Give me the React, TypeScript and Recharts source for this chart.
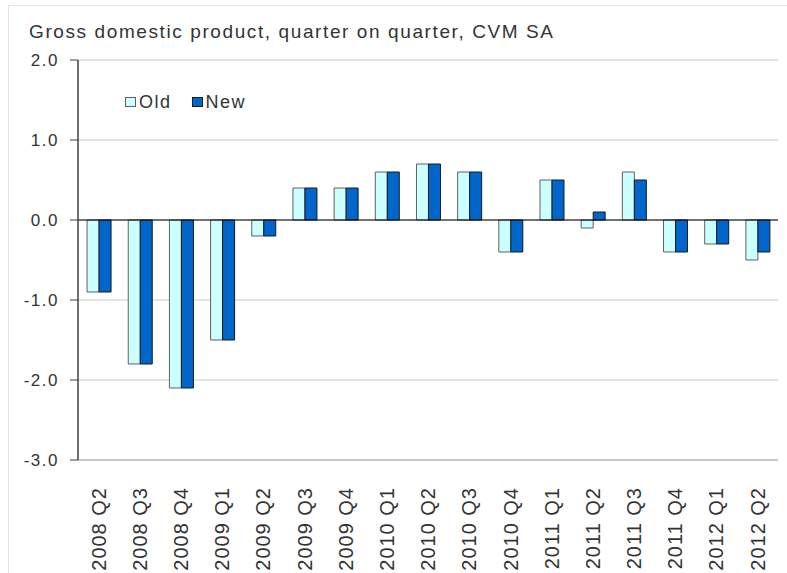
import React from 'react';
import { BarChart, Bar, XAxis, YAxis, CartesianGrid, ReferenceLine } from 'recharts';

const quarters = ['2008 Q2','2008 Q3','2008 Q4','2009 Q1','2009 Q2','2009 Q3','2009 Q4','2010 Q1','2010 Q2','2010 Q3','2010 Q4','2011 Q1','2011 Q2','2011 Q3','2011 Q4','2012 Q1','2012 Q2'];
const oldValues = [-0.9,-1.8,-2.1,-1.5,-0.2,0.4,0.4,0.6,0.7,0.6,-0.4,0.5,-0.1,0.6,-0.4,-0.3,-0.5];
const newValues = [-0.9,-1.8,-2.1,-1.5,-0.2,0.4,0.4,0.6,0.7,0.6,-0.4,0.5,0.1,0.5,-0.4,-0.3,-0.4];
const yTicks = [-3, -2, -1, 0, 1, 2];
const seriesNames = ['Old', 'New'];
const title = 'Gross domestic product, quarter on quarter, CVM SA';

const data = quarters.map((q, i) => ({ q, Old: oldValues[i], New: newValues[i] }));

const FONT = '"Liberation Sans", Arial, sans-serif';
const OLD_FILL = '#CCFFFF';
const OLD_STROKE = '#606060';
const NEW_FILL = '#0066CC';
const NEW_STROKE = '#1a1a1a';

const XTick = (props: any) => {
  const { x, y, payload } = props;
  const ty = y + 27;
  return (
    <text
      x={x}
      y={ty}
      transform={`rotate(-90 ${x} ${ty})`}
      textAnchor="end"
      dy="0.36em"
      fontSize={20}
      letterSpacing={1}
      fontFamily={FONT}
      fill="#333"
    >
      {payload.value}
    </text>
  );
};

const YTick = (props: any) => {
  const { y, payload } = props;
  return (
    <text x={59} y={y} dy="0.36em" textAnchor="end" fontSize={17} letterSpacing={1.5} fontFamily={FONT} fill="#333">
      {Number(payload.value).toFixed(1)}
    </text>
  );
};

const LegendBox = () => (
  <div style={{ position: 'absolute', left: 125, top: 93, display: 'flex', alignItems: 'center', fontFamily: FONT, fontSize: 18, letterSpacing: 1.5, color: '#333', lineHeight: '18px' }}>
    <span style={{ width: 9, height: 8, background: OLD_FILL, border: `1px solid ${OLD_STROKE}`, display: 'inline-block', marginRight: 3 }} />
    <span style={{ marginRight: 20 }}>{seriesNames[0]}</span>
    <span style={{ width: 9, height: 8, background: NEW_FILL, border: `1px solid ${NEW_STROKE}`, display: 'inline-block', marginRight: 3 }} />
    <span>{seriesNames[1]}</span>
  </div>
);

export default function App() {
  return (
    <div style={{ position: 'absolute', left: 0, top: 0, width: 787, height: 573, background: '#fff', overflow: 'hidden' }}>
      <div style={{ position: 'absolute', left: 8, top: 5, width: 800, height: 600, border: '1px solid #e4e4e4', boxSizing: 'border-box' }} />
      <div style={{ position: 'absolute', left: 29, top: 23, fontFamily: FONT, fontSize: 19, letterSpacing: 1.6, lineHeight: '18px', color: '#333', whiteSpace: 'nowrap' }}>
        {title}
      </div>
      <BarChart
        width={787}
        height={573}
        data={data}
        margin={{ top: 60, right: 9, left: 0, bottom: 0 }}
        barCategoryGap="22%"
        barGap={0}
        style={{ position: 'absolute', left: 0, top: 0 }}
      >
        <CartesianGrid vertical={false} stroke="#c8c8c8" />
        <XAxis
          dataKey="q"
          height={113}
          interval={0}
          tickLine={false}
          tickSize={0}
          tickMargin={0}
          axisLine={{ stroke: '#a8a8a8' }}
          tick={<XTick />}
        />
        <YAxis
          width={78}
          domain={[-3, 2]}
          ticks={yTicks}
          allowDataOverflow
          axisLine={{ stroke: '#404040', strokeWidth: 1.5 }}
          tickLine={{ stroke: '#404040' }}
          tickSize={8}
          tick={<YTick />}
        />
        <YAxis
          yAxisId="right"
          orientation="right"
          width={0}
          domain={[-3, 2]}
          tick={false}
          tickLine={false}
          axisLine={{ stroke: '#c8c8c8' }}
        />
        <Bar dataKey={seriesNames[0]} fill={OLD_FILL} stroke={OLD_STROKE} strokeWidth={1} isAnimationActive={false} />
        <Bar dataKey={seriesNames[1]} fill={NEW_FILL} stroke={NEW_STROKE} strokeWidth={1} isAnimationActive={false} />
        <ReferenceLine y={0} stroke="#000" strokeWidth={1} />
      </BarChart>
      <LegendBox />
    </div>
  );
}
